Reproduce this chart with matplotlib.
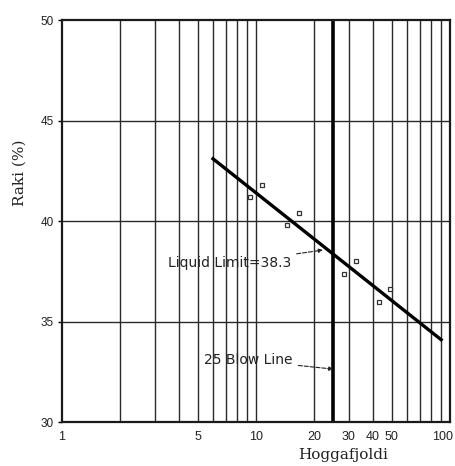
import matplotlib
matplotlib.use("Agg")
import matplotlib.pyplot as plt
import matplotlib.transforms as mtransforms
from matplotlib.ticker import NullLocator

# Flow curve of a liquid limit test (Casagrande cup)
flow_blows = [6.0, 90.0]
flow_moisture = [43.1, 34.1]

test_blows = [10.0, 15.5, 30.5, 46.0]
test_moisture = [41.5, 40.1, 37.7, 36.3]

blow_line = 25
liquid_limit = 38.3

x_ticks = [1, 5, 10, 20, 30, 40, 50, 100]
x_grid = [2, 3, 4, 5, 6, 7, 8, 9, 10, 20, 30, 40, 50, 60, 70, 80, 90]
y_ticks = [30, 35, 40, 45, 50]

fig = plt.figure(figsize=(4.56, 4.66), dpi=100)
ax = fig.add_axes([0.136, 0.094, 0.851, 0.863])
ax.set_xscale("log")
ax.set_xlim(1, 100)
ax.set_ylim(30, 50)

for xv in x_grid:
    ax.axvline(xv, color="#2a2a2a", lw=1.0, zorder=1)
for yv in y_ticks[1:-1]:
    ax.axhline(yv, color="#2a2a2a", lw=1.0, zorder=1)

ax.axvline(blow_line, color="black", lw=2.6, zorder=2)

ax.plot(flow_blows, flow_moisture, color="black", lw=2.4, zorder=3)

# each test point is marked by a pair of small open squares
for dx, dy in [(4, 4.5), (-4, -4.5)]:
    tr = mtransforms.offset_copy(ax.transData, fig=fig, x=dx, y=dy, units="points")
    ax.plot(test_blows, test_moisture, ls="none", marker="s", ms=3.3,
            mfc="white", mec="#333333", mew=0.9, transform=tr, zorder=4)

arrow_style = dict(arrowstyle="-|>", ls="--", lw=0.8, color="#222222",
                   mutation_scale=6, shrinkA=2, shrinkB=0)
ax.annotate(f"Liquid Limit={liquid_limit}", xy=(22.1, 38.56),
            xytext=(7.3, 37.9), ha="center", va="center",
            fontsize=10, family="DejaVu Sans", color="#222222",
            arrowprops=arrow_style)
ax.annotate("25 Blow Line", xy=(blow_line, 32.64), xytext=(9.15, 33.08),
            ha="center", va="center",
            fontsize=10, family="DejaVu Sans", color="#222222",
            arrowprops=arrow_style)

ax.set_xticks(x_ticks)
ax.set_xticklabels([str(v) for v in x_ticks])
ax.xaxis.set_minor_locator(NullLocator())
ax.set_yticks(y_ticks)
ax.tick_params(axis="x", length=0, pad=6, labelsize=9, labelcolor="#222222")
ax.tick_params(axis="y", length=3, width=1, pad=3, labelsize=8.5, labelcolor="#222222")
for lab in ax.get_xticklabels() + ax.get_yticklabels():
    lab.set_family("Liberation Sans")
last = ax.get_xticklabels()[-1]
last.set_horizontalalignment("right")
last.set_transform(last.get_transform() + mtransforms.ScaledTranslation(2 / 72, 0, fig.dpi_scale_trans))

for sp in ax.spines.values():
    sp.set_linewidth(1.6)
    sp.set_color("#1a1a1a")

ax.set_ylabel("Raki (%)", family="DejaVu Serif", fontsize=11, color="#222222")
ax.yaxis.set_label_coords(-0.09, 0.62)
ax.set_xlabel("Hoggafjoldi", family="DejaVu Serif", fontsize=11, color="#222222")
ax.xaxis.set_label_coords(0.725, -0.065)

fig.savefig("out.png", dpi=100, facecolor="white")
